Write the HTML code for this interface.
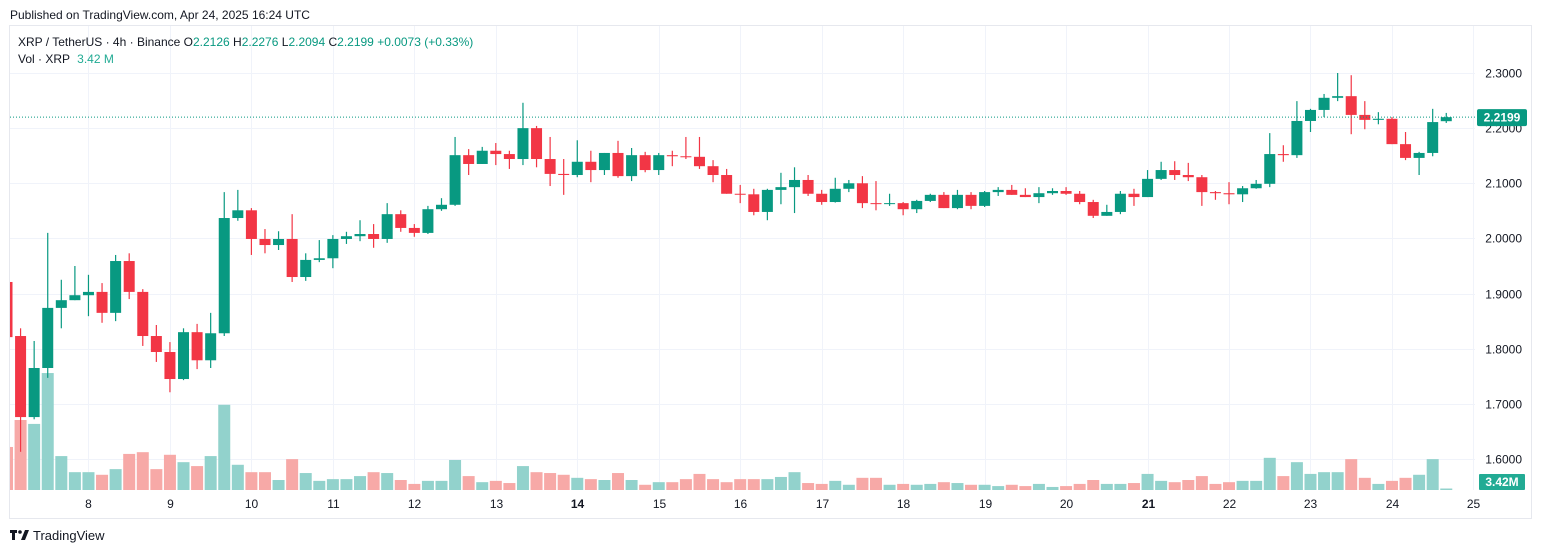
<!DOCTYPE html>
<html><head><meta charset="utf-8">
<style>
html,body{margin:0;padding:0;background:#fff;}
body{width:1542px;height:553px;overflow:hidden;position:relative;font-family:"Liberation Sans","DejaVu Sans",sans-serif;}
svg{position:absolute;left:0;top:0;}
</style></head>
<body>
<svg id="chart" width="1542" height="553" viewBox="0 0 1542 553">
  <text x="10" y="19" font-size="12" fill="#131722">Published on TradingView.com, Apr 24, 2025 16:24 UTC</text>
  <rect x="9.5" y="25.5" width="1522" height="493" fill="none" stroke="#e6e8ee" stroke-width="1"/>
  <g id="grid"></g>
  <g id="vol"></g>
  <g id="candles"></g>
  <g id="axes"></g>
  <g font-size="12">
    <text x="18" y="46" fill="#131722">XRP / TetherUS · 4h · Binance <tspan fill="#131722">O</tspan><tspan fill="#089981">2.2126</tspan> <tspan fill="#131722">H</tspan><tspan fill="#089981">2.2276</tspan> <tspan fill="#131722">L</tspan><tspan fill="#089981">2.2094</tspan> <tspan fill="#131722">C</tspan><tspan fill="#089981">2.2199 +0.0073 (+0.33%)</tspan></text>
    <text x="18" y="63" fill="#131722">Vol · XRP <tspan fill="#22ab94" dx="4">3.42 M</tspan></text>
  </g>
  <g>
    <rect x="10" y="530" width="7" height="3" fill="#131722"/>
    <rect x="12" y="530" width="3" height="10" fill="#131722"/>
    <circle cx="20" cy="532" r="1.8" fill="#131722"/>
    <path d="M21 540 L25 530 L29 530 L25 540 Z" fill="#131722"/>
    <text x="33" y="540" font-size="13" fill="#131722">TradingView</text>
  </g>
</svg>
<script>
const opens=[1.921,1.823,1.676,1.765,1.874,1.888,1.897,1.903,1.865,1.959,1.903,1.823,1.794,1.745,1.830,1.779,1.828,2.037,2.051,1.999,1.988,1.999,1.930,1.961,1.964,1.999,2.004,2.008,1.999,2.044,2.019,2.010,2.053,2.061,2.151,2.135,2.159,2.153,2.144,2.200,2.144,2.117,2.115,2.139,2.124,2.155,2.113,2.151,2.124,2.151,2.149,2.148,2.131,2.115,2.081,2.080,2.048,2.088,2.093,2.106,2.081,2.066,2.090,2.100,2.064,2.063,2.064,2.053,2.068,2.079,2.055,2.079,2.059,2.084,2.088,2.079,2.075,2.082,2.086,2.081,2.066,2.041,2.048,2.081,2.075,2.108,2.124,2.115,2.111,2.084,2.082,2.080,2.091,2.099,2.153,2.151,2.213,2.233,2.255,2.258,2.224,2.215,2.217,2.171,2.146,2.155,2.2126];
const highs=[1.922,1.837,1.814,2.010,1.925,1.950,1.934,1.919,1.970,1.973,1.908,1.843,1.812,1.837,1.845,1.865,2.084,2.088,2.055,2.017,2.013,2.044,1.973,1.997,2.006,2.012,2.033,2.026,2.064,2.051,2.026,2.059,2.073,2.184,2.162,2.166,2.173,2.159,2.246,2.204,2.184,2.144,2.178,2.159,2.155,2.177,2.164,2.157,2.155,2.159,2.184,2.184,2.142,2.126,2.097,2.090,2.090,2.119,2.129,2.115,2.088,2.110,2.106,2.113,2.104,2.081,2.066,2.070,2.081,2.084,2.088,2.084,2.086,2.093,2.097,2.091,2.093,2.091,2.093,2.086,2.070,2.061,2.086,2.090,2.124,2.139,2.140,2.137,2.115,2.086,2.102,2.095,2.106,2.191,2.169,2.249,2.235,2.262,2.300,2.296,2.249,2.229,2.220,2.193,2.157,2.235,2.2276];
const lows=[1.816,1.613,1.672,1.747,1.837,1.888,1.859,1.847,1.850,1.890,1.805,1.776,1.721,1.743,1.763,1.765,1.823,2.032,1.970,1.973,1.979,1.921,1.923,1.957,1.946,1.990,1.995,1.983,1.992,2.012,2.003,2.008,2.050,2.059,2.115,2.135,2.133,2.126,2.133,2.129,2.095,2.079,2.111,2.102,2.115,2.110,2.104,2.120,2.115,2.131,2.144,2.126,2.102,2.081,2.064,2.042,2.033,2.062,2.046,2.077,2.061,2.065,2.084,2.055,2.051,2.059,2.042,2.046,2.066,2.055,2.053,2.053,2.057,2.077,2.079,2.075,2.064,2.079,2.079,2.062,2.037,2.041,2.044,2.059,2.075,2.106,2.106,2.104,2.059,2.070,2.062,2.066,2.090,2.093,2.139,2.146,2.193,2.220,2.249,2.189,2.198,2.207,2.171,2.142,2.115,2.149,2.2094];
const closes=[1.821,1.676,1.765,1.874,1.888,1.897,1.903,1.865,1.959,1.903,1.823,1.794,1.745,1.830,1.779,1.828,2.037,2.051,1.999,1.988,1.999,1.930,1.961,1.964,1.999,2.004,2.008,1.999,2.044,2.019,2.010,2.053,2.061,2.151,2.135,2.159,2.153,2.144,2.200,2.144,2.117,2.115,2.139,2.124,2.155,2.113,2.151,2.124,2.151,2.149,2.148,2.131,2.115,2.081,2.080,2.048,2.088,2.093,2.106,2.081,2.066,2.090,2.100,2.064,2.063,2.064,2.053,2.068,2.079,2.055,2.079,2.059,2.084,2.088,2.079,2.075,2.082,2.086,2.081,2.066,2.041,2.048,2.081,2.075,2.108,2.124,2.115,2.111,2.084,2.082,2.080,2.091,2.099,2.153,2.151,2.213,2.233,2.255,2.258,2.224,2.215,2.217,2.171,2.146,2.155,2.211,2.2199];
const volumes=[99,161,152,269,78,41,41,35,48,83,87,48,81,64,55,78,196,58,41,41,23,71,39,21,25,25,32,41,39,23,14,21,21,69,32,18,21,16,55,41,39,35,28,25,23,39,23,12,18,18,25,37,25,18,25,25,25,30,41,16,14,21,12,28,28,12,14,12,14,18,16,12,12,9,12,9,14,7,9,14,23,14,14,16,37,21,18,23,32,14,18,21,21,74,32,64,37,41,41,71,28,14,21,28,35,71,3.42];
const priceTicks=[2.3,2.2,2.1,2.0,1.9,1.8,1.7,1.6];
const dayLabels=["8","9","10","11","12","13","14","15","16","17","18","19","20","21","22","23","24","25"];
const lastPrice=2.2199;
const lastVolumeLabel="3.42M";

const NS="http://www.w3.org/2000/svg";
const PL=10,PR=1475,PT=26,PB=490;
function yP(p){return 73+(2.3-p)*551.4;}
function xI(i){return 7+i*13.578;}
function yV(v){return PB-v/2.3;}
function mk(t,a,parent){const e=document.createElementNS(NS,t);for(const k in a)e.setAttribute(k,a[k]);parent.appendChild(e);return e;}
const grid=document.getElementById('grid'),vol=document.getElementById('vol'),cg=document.getElementById('candles'),ax=document.getElementById('axes');
// clip
const defs=mk('defs',{},document.getElementById('chart'));
const cp=mk('clipPath',{id:'plotclip'},defs);mk('rect',{x:PL,y:PT,width:PR-PL,height:PB-PT},cp);
vol.setAttribute('clip-path','url(#plotclip)');cg.setAttribute('clip-path','url(#plotclip)');
// grid
priceTicks.forEach((p,k)=>{
  const y=Math.round(yP(p))+0.5;
  const l=mk('line',{x1:PL,x2:PR,y1:y,y2:y,stroke:'#f0f3fa','stroke-width':1},grid);
  
  
  const t=mk('text',{x:1522,y:y+4,'font-size':12,fill:'#131722','text-anchor':'end'},ax);
  t.textContent=p.toFixed(4);
  
  
});
dayLabels.forEach((d,k)=>{
  const x=Math.round(xI(6+k*6))+0.5;
  if(x<PR){const l=mk('line',{x1:x,x2:x,y1:PT,y2:PB,stroke:'#f0f3fa','stroke-width':1},grid);
  
  }
  const bold=(d==="14"||d==="21");
  const t=mk('text',{x:x,y:508,'font-size':12,fill:'#131722','text-anchor':'middle','font-weight':bold?'bold':'normal'},ax);
  t.textContent=d;
  
  
});
// volume
volumes.forEach((v,i)=>{
  const up=closes[i]>=opens[i];
  const x=xI(i);
  const r=mk('rect',{x:x-6,y:yV(v),width:12,height:PB-yV(v),fill:up?'#92d2cc':'#f7a9a7'},vol);
  
  
});
// last price line
const ly=yP(lastPrice);
const pl=mk('line',{x1:PL,x2:PR,y1:ly,y2:ly,stroke:'#089981','stroke-width':1,'stroke-dasharray':'1 2'},ax);


// candles
opens.forEach((o,i)=>{
  const c=closes[i],up=c>=o,col=up?'#089981':'#f23645',x=xI(i);
  const g=mk('g',{},cg);
  
  
  mk('line',{x1:x,x2:x,y1:yP(highs[i]),y2:yP(lows[i]),stroke:col,'stroke-width':1.2},g);
  const top=yP(Math.max(o,c)),bot=yP(Math.min(o,c));
  mk('rect',{x:x-5.5,y:top,width:11,height:Math.max(1,bot-top),fill:col},g);
});
// axis labels
const pb=mk('rect',{x:1477,y:ly-8,width:50,height:17,rx:2,fill:'#089981'},ax);


const pt=mk('text',{x:1502,y:ly+4.5,'font-size':12,'font-weight':'bold',fill:'#fff','text-anchor':'middle'},ax);
pt.textContent=lastPrice.toFixed(4);


const vb=mk('rect',{x:1479,y:474,width:46,height:16,rx:1,fill:'#22ab94'},ax);


const vt=mk('text',{x:1502,y:486,'font-size':12,'font-weight':'bold',fill:'#fff','text-anchor':'middle'},ax);
vt.textContent=lastVolumeLabel;


</script>
</body></html>
